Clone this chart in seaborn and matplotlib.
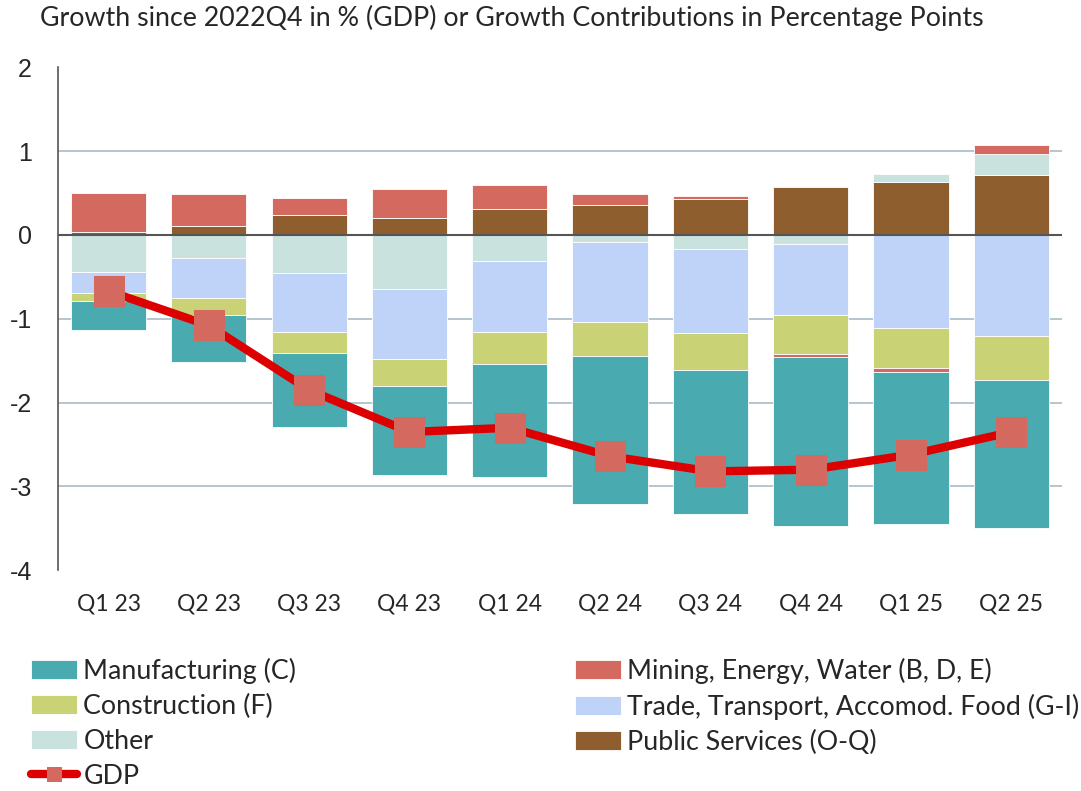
import matplotlib.pyplot as plt
import seaborn as sns
import numpy as np
import pandas as pd

quarters = ["Q1 23", "Q2 23", "Q3 23", "Q4 23", "Q1 24", "Q2 24", "Q3 24", "Q4 24", "Q1 25", "Q2 25"]

manufacturing = [-0.34, -0.56, -0.88, -1.06, -1.35, -1.77, -1.72, -2.01, -1.82, -1.76]
mining = [0.46, 0.38, 0.20, 0.35, 0.28, 0.13, 0.03, -0.04, -0.04, 0.11]
construction = [-0.10, -0.21, -0.25, -0.32, -0.38, -0.40, -0.44, -0.46, -0.48, -0.52]
trade = [-0.25, -0.47, -0.71, -0.84, -0.85, -0.95, -1.00, -0.85, -1.11, -1.21]
other = [-0.44, -0.28, -0.45, -0.64, -0.31, -0.09, -0.17, -0.11, 0.10, 0.24]
public = [0.04, 0.11, 0.24, 0.20, 0.31, 0.36, 0.43, 0.57, 0.63, 0.72]
gdp = [-0.67, -1.08, -1.85, -2.35, -2.30, -2.64, -2.82, -2.80, -2.62, -2.35]

# stacking order (same as the source: positives and negatives stacked separately)
series = [
    ("Public Services (O-Q)", public, "#8F5E2F"),
    ("Other", other, "#C9E2DE"),
    ("Trade, Transport, Accomod. Food (G-I)", trade, "#BFD2F8"),
    ("Construction (F)", construction, "#C9D375"),
    ("Mining, Energy, Water (B, D, E)", mining, "#D4695F"),
    ("Manufacturing (C)", manufacturing, "#49AAAF"),
]

sns.set_style("white")
plt.rcParams["font.family"] = ["Lato", "DejaVu Sans"]

fig = plt.figure(figsize=(10.81, 7.91), dpi=100)
ax = fig.add_axes([0.054, 0.279, 0.928, 0.636])

x = np.arange(len(quarters))
pos_base = np.zeros(len(quarters))
neg_base = np.zeros(len(quarters))
handles = {}
for name, vals, col in series:
    vals = np.array(vals)
    bottom = np.where(vals >= 0, pos_base, neg_base)
    b = ax.bar(x, vals, bottom=bottom, width=0.75, color=col, edgecolor="white",
               linewidth=0.6, label=name, zorder=3)
    handles[name] = b
    pos_base = pos_base + np.where(vals >= 0, vals, 0)
    neg_base = neg_base + np.where(vals < 0, vals, 0)

df = pd.DataFrame({"x": x, "gdp": gdp})
sns.lineplot(data=df, x="x", y="gdp", ax=ax, color="#DD0000", linewidth=6,
             marker="s", markersize=21, markerfacecolor="#D4695F",
             markeredgecolor="#D4695F", zorder=5, label="GDP")
gdp_handle = ax.get_lines()[-1]
ax.get_legend().remove()

for v in [1, -1, -2, -3]:
    ax.axhline(v, color="#A9BCC8", linewidth=1.2, zorder=1)
ax.axhline(0, color="#555555", linewidth=1.5, zorder=4)

ax.set_xlim(-0.5, 9.5)
ax.set_ylim(-4, 2)
ax.set_yticks([2, 1, 0, -1, -2, -3, -4])
ax.set_yticklabels(["2", "1", "0", "-1", "-2", "-3", "-4"], fontsize=18,
                   family=["Liberation Sans", "DejaVu Sans"])
ax.set_xticks(x)
ax.set_xticklabels(quarters, fontsize=16.5)
ax.tick_params(axis="x", length=0, pad=17)
ax.tick_params(axis="y", length=0, pad=19)
ax.set_xlabel("")
ax.set_ylabel("")
for s in ["top", "right", "bottom"]:
    ax.spines[s].set_visible(False)
ax.spines["left"].set_color("#555555")
ax.spines["left"].set_linewidth(1.2)

fig.text(0.037, 0.977, "Growth since 2022Q4 in % (GDP) or Growth Contributions in Percentage Points",
         fontsize=19.3, va="center", ha="left")

order = ["Manufacturing (C)", "Construction (F)", "Other"]
order2 = ["Mining, Energy, Water (B, D, E)", "Trade, Transport, Accomod. Food (G-I)",
          "Public Services (O-Q)"]
leg_handles = [handles[n] for n in order] + [gdp_handle] + [handles[n] for n in order2]
leg_labels = order + ["GDP"] + order2
fig.legend(leg_handles, leg_labels, ncol=2, loc="upper left",
           bbox_to_anchor=(0.019, 0.182), frameon=False, fontsize=19.3,
           handlelength=1.72, handletextpad=0.22, columnspacing=10.4,
           labelspacing=0.37, borderaxespad=0, markerscale=0.48)

fig.savefig("out.png", dpi=100)
